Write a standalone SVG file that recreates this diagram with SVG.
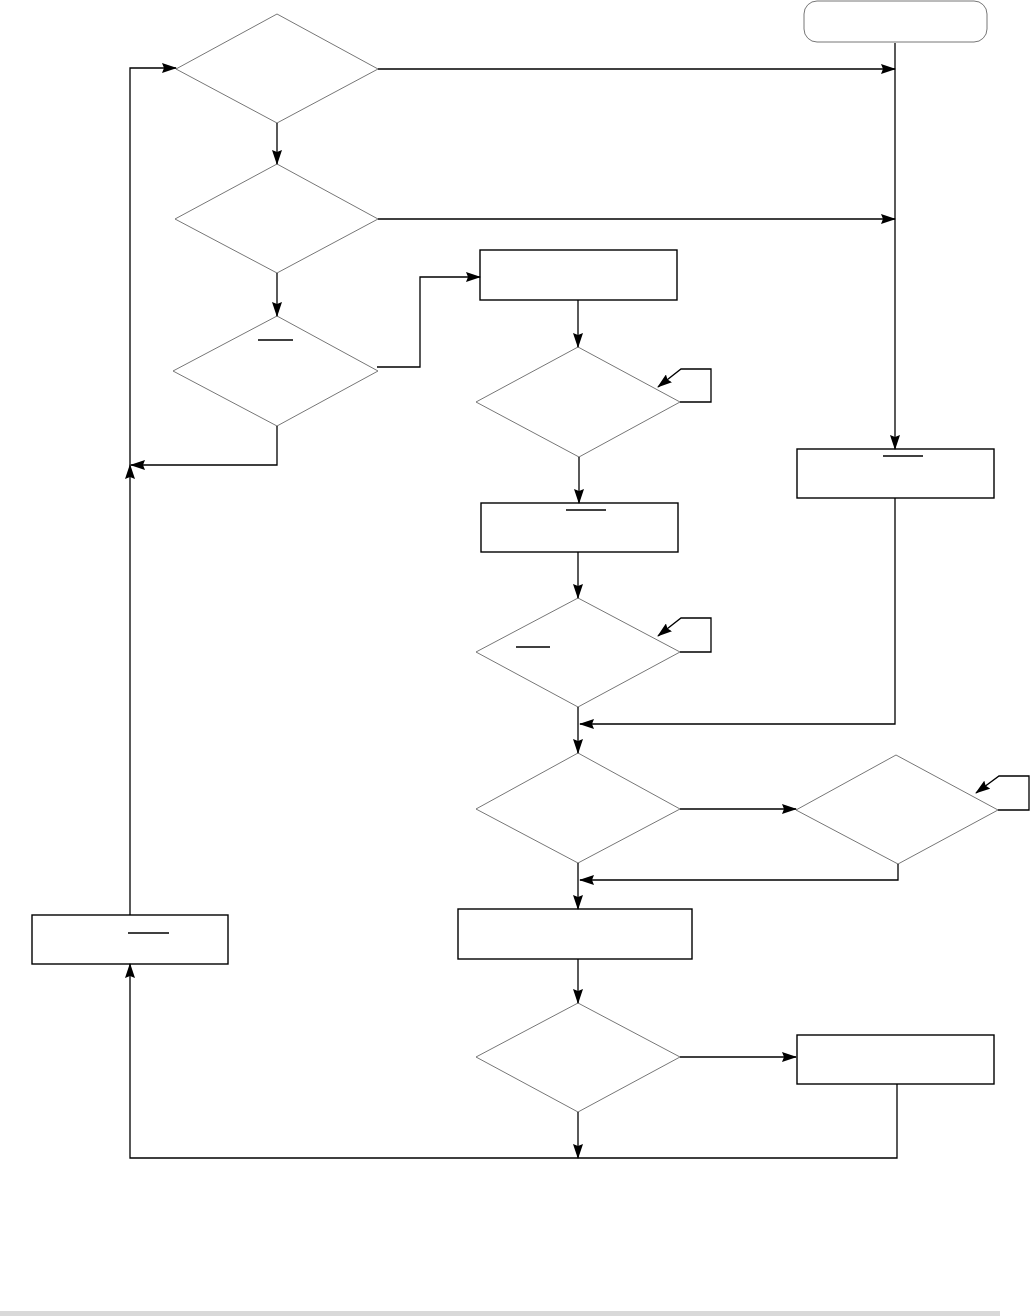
<svg xmlns="http://www.w3.org/2000/svg" width="1030" height="1316" viewBox="0 0 1030 1316">
<style>
.dia{fill:#fff;stroke:#777;stroke-width:1}
.box{fill:#fff;stroke:#000;stroke-width:1.4}
.term{fill:#fff;stroke:#777;stroke-width:1}
.ol{stroke:#000;stroke-width:1.3}
.con{fill:none;stroke:#000;stroke-width:1.3}
.arr{marker-end:url(#ah)}
</style>
<defs>
<marker id="ah" markerUnits="userSpaceOnUse" markerWidth="15" markerHeight="10" refX="14" refY="5" orient="auto" viewBox="0 0 15 10">
<path d="M0,0 L15,5 L0,10 L2,5 z" fill="#000"/>
</marker>
</defs>
<rect width="1030" height="1316" fill="#fff"/>
<rect x="0" y="1311" width="1000" height="5" fill="#d9d9d9"/>

<g id="start"><rect class="term" x="804" y="1" width="183" height="41" rx="13"/></g>
<g id="d1"><polygon class="dia" points="277,14 378,69 277,123 176,69"/></g>
<g id="d2"><polygon class="dia" points="277,164 378,219 277,273 175,219"/></g>
<g id="d3"><polygon class="dia" points="277,316 378,371 277,426 173,371"/><line class="ol" x1="258" y1="340" x2="293" y2="340"/></g>
<g id="b1"><rect class="box" x="480" y="250" width="197" height="50"/></g>
<g id="d4"><polygon class="dia" points="578,347 680,402 579,457 476,402"/></g>
<g id="b2"><rect class="box" x="481" y="503" width="197" height="49"/><line class="ol" x1="566" y1="510" x2="606" y2="510"/></g>
<g id="d5"><polygon class="dia" points="578,598 680,652 578,707 476,652"/><line class="ol" x1="516" y1="647" x2="550" y2="647"/></g>
<g id="b3"><rect class="box" x="797" y="449" width="197" height="49"/><line class="ol" x1="883" y1="456" x2="923" y2="456"/></g>
<g id="d6"><polygon class="dia" points="578,753 680,809 578,863 476,809"/></g>
<g id="d7"><polygon class="dia" points="896,755 998,810 898,864 796,810"/></g>
<g id="b4"><rect class="box" x="458" y="909" width="234" height="50"/></g>
<g id="d8"><polygon class="dia" points="578,1003 680,1057 578,1112 476,1057"/></g>
<g id="b5"><rect class="box" x="797" y="1035" width="197" height="49"/></g>
<g id="b6"><rect class="box" x="32" y="915" width="196" height="49"/><line class="ol" x1="128" y1="933" x2="169" y2="933"/></g>

<g id="connectors">
<path class="con arr" d="M378,69 H895"/>
<path class="con arr" d="M378,219 H895"/>
<path class="con arr" d="M895,43 V449"/>
<path class="con arr" d="M277,123 V164"/>
<path class="con arr" d="M277,273 V316"/>
<path class="con arr" d="M377,367 H420 V277 H480"/>
<path class="con arr" d="M277,426 V465 H131"/>
<path class="con arr" d="M578,300 V347"/>
<path class="con arr" d="M680,402 H711 V369 H681 L658,387"/>
<path class="con arr" d="M579,457 V503"/>
<path class="con arr" d="M578,552 V598"/>
<path class="con arr" d="M680,652 H711 V618 H681 L658,636"/>
<path class="con arr" d="M578,707 V753"/>
<path class="con arr" d="M895,498 V724 H580"/>
<path class="con arr" d="M680,809 H796"/>
<path class="con arr" d="M998,810 H1029 V776 H999 L976,793"/>
<path class="con arr" d="M898,864 V880 H580"/>
<path class="con arr" d="M578,863 V909"/>
<path class="con arr" d="M578,959 V1003"/>
<path class="con arr" d="M680,1057 H796"/>
<path class="con arr" d="M578,1112 V1158"/>
<path class="con arr" d="M897,1084 V1158 H130 V964"/>
<path class="con arr" d="M130,915 V465"/>
<path class="con arr" d="M130,465 V68 H176"/>
</g>
</svg>
